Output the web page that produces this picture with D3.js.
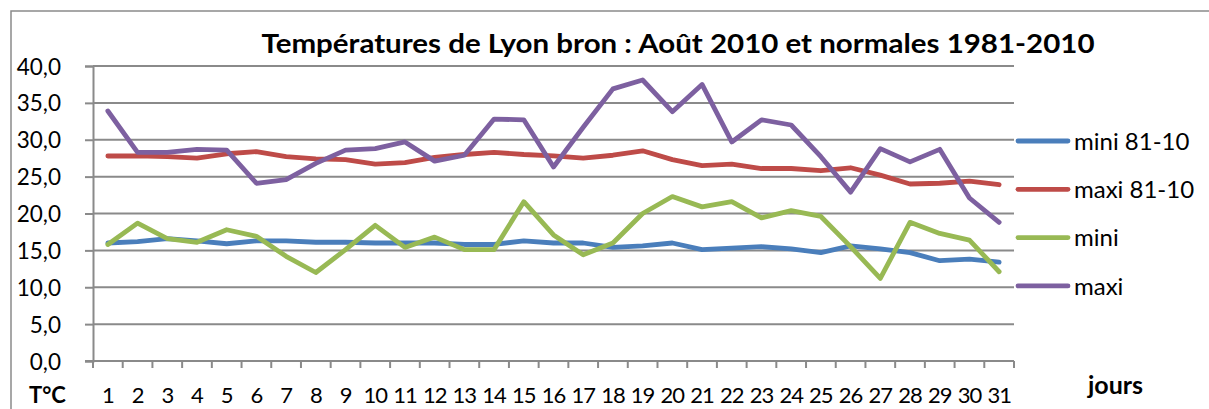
<!DOCTYPE html>
<html lang="fr">
<head>
<meta charset="UTF-8">
<title>Températures de Lyon bron</title>
<script src="https://d3js.org/d3.v7.min.js"></script>
<style>
  body { margin: 0; background: #fff; }
  svg { display: block; font-family: Lato, "Open Sans", sans-serif; }
</style>
</head>
<body>
<svg id="chart" width="1209" height="409"></svg>
<script>
// jours du mois d'août
const days = d3.range(1, 32);

// normales 1981-2010
const mini8110 = [16.0, 16.2, 16.6, 16.3, 15.9, 16.3, 16.3, 16.1, 16.1, 16.0,
                  16.0, 16.0, 15.8, 15.8, 16.3, 16.0, 16.0, 15.4, 15.6, 16.0,
                  15.1, 15.3, 15.5, 15.2, 14.7, 15.6, 15.2, 14.7, 13.6, 13.8, 13.4];
const maxi8110 = [27.8, 27.8, 27.7, 27.5, 28.1, 28.4, 27.7, 27.4, 27.3, 26.7,
                  26.9, 27.6, 28.0, 28.3, 28.0, 27.8, 27.5, 27.9, 28.5, 27.3,
                  26.5, 26.7, 26.1, 26.1, 25.8, 26.2, 25.2, 24.0, 24.1, 24.4, 23.9];

// août 2010
const mini = [15.8, 18.7, 16.6, 16.1, 17.8, 16.9, 14.2, 12.0, 15.1, 18.4,
              15.4, 16.8, 15.1, 15.1, 21.6, 17.1, 14.4, 16.0, 20.0, 22.3,
              20.9, 21.6, 19.4, 20.4, 19.6, 15.5, 11.2, 18.8, 17.3, 16.4, 12.1];
const maxi = [33.9, 28.3, 28.3, 28.7, 28.6, 24.1, 24.6, 26.8, 28.6, 28.8,
              29.7, 27.1, 27.9, 32.8, 32.7, 26.3, 31.7, 36.9, 38.1, 33.8,
              37.5, 29.7, 32.7, 32.0, 27.7, 22.9, 28.8, 27.0, 28.7, 22.1, 18.8];

const yTicks = [0, 5, 10, 15, 20, 25, 30, 35, 40];

const series = [
  { name: "mini 81-10", values: mini8110, color: "#4a7ebb" },
  { name: "maxi 81-10", values: maxi8110, color: "#be4b48" },
  { name: "mini", values: mini, color: "#98b954" },
  { name: "maxi", values: maxi, color: "#7d60a0" }
];

const svg = d3.select("#chart");
const gridColor = "#8a8a8a";

// cadre du graphique
svg.append("rect")
  .attr("x", 11).attr("y", 11)
  .attr("width", 1240).attr("height", 440)
  .attr("fill", "none")
  .attr("stroke", gridColor)
  .attr("stroke-width", 1.5);

const x = d3.scaleBand().domain(days).range([93, 1014]);
const y = d3.scaleLinear().domain([0, 40]).range([361, 66]);
const cx = d => x(d) + x.bandwidth() / 2;

// titre
svg.append("text")
  .attr("x", 678).attr("y", 53)
  .attr("text-anchor", "middle")
  .attr("font-size", 27)
  .attr("font-weight", "bold")
  .attr("textLength", 833)
  .attr("lengthAdjust", "spacingAndGlyphs")
  .text("Températures de Lyon bron : Août 2010 et normales 1981-2010");

// grille horizontale
svg.append("g")
  .selectAll("line")
  .data(yTicks.filter(t => t > 0))
  .join("line")
  .attr("x1", 93).attr("x2", 1014)
  .attr("y1", d => y(d)).attr("y2", d => y(d))
  .attr("stroke", gridColor)
  .attr("stroke-width", 2);

// axe des y
const yAxis = svg.append("g")
  .attr("transform", "translate(93,0)")
  .call(d3.axisLeft(y)
    .tickValues(yTicks)
    .tickSize(8)
    .tickPadding(24)
    .tickFormat(d => d3.format(".1f")(d).replace(".", ",")));
yAxis.selectAll("path, line").attr("stroke", gridColor).attr("stroke-width", 2);
yAxis.selectAll("text")
  .attr("font-size", 22.5)
  .attr("font-family", "Lato, sans-serif")
  .attr("fill", "#000")
  .attr("dy", "0.36em");

// axe des x
const xAxis = svg.append("g");
xAxis.append("line")
  .attr("x1", 85).attr("x2", 1014)
  .attr("y1", y(0)).attr("y2", y(0))
  .attr("stroke", gridColor).attr("stroke-width", 2);
xAxis.selectAll(".tick")
  .data(days.map(d => x(d)).concat([x.range()[1]]))
  .join("line")
  .attr("x1", d => d).attr("x2", d => d)
  .attr("y1", y(0)).attr("y2", y(0) + 7)
  .attr("stroke", gridColor).attr("stroke-width", 2);
xAxis.selectAll("text")
  .data(days)
  .join("text")
  .attr("x", cx)
  .attr("y", 403)
  .attr("text-anchor", "middle")
  .attr("font-size", 22)
  .attr("letter-spacing", -1)
  .text(d => d);

svg.append("text")
  .attr("x", 29).attr("y", 403)
  .attr("font-size", 22)
  .attr("font-weight", "bold")
  .text("T°C");

svg.append("text")
  .attr("x", 1088).attr("y", 394)
  .attr("font-size", 25)
  .attr("font-weight", "bold")
  .text("jours");

// courbes
const line = d3.line()
  .x((v, i) => cx(days[i]))
  .y(v => y(v));

svg.append("g")
  .selectAll("path")
  .data(series)
  .join("path")
  .attr("d", s => line(s.values))
  .attr("fill", "none")
  .attr("stroke", s => s.color)
  .attr("stroke-width", 4.8)
  .attr("stroke-linejoin", "round")
  .attr("stroke-linecap", "round");

// légende
const legend = svg.append("g")
  .selectAll("g")
  .data(series)
  .join("g")
  .attr("transform", (s, i) => `translate(1018,${141 + i * 48.3})`);
legend.append("line")
  .attr("x1", 0).attr("x2", 50)
  .attr("stroke", s => s.color)
  .attr("stroke-width", 4.8)
  .attr("stroke-linecap", "round");
legend.append("text")
  .attr("x", 56)
  .attr("dy", "0.36em")
  .attr("font-size", 24)
  .text(s => s.name);
</script>
</body>
</html>
